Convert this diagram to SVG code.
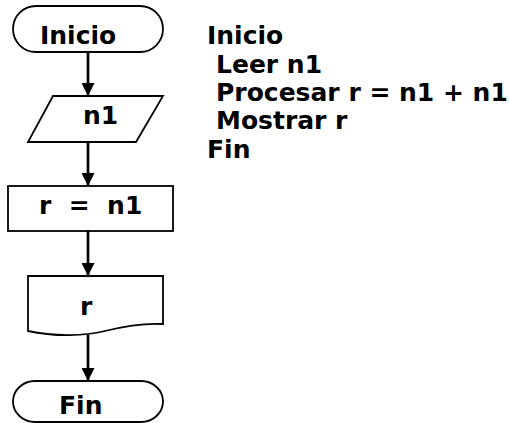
<svg xmlns="http://www.w3.org/2000/svg" width="510" height="423" viewBox="0 0 510 423">
  <style>
    .shape { fill: #ffffff; stroke: #000000; stroke-width: 1.8; }
    .label { font-family: "DejaVu Sans", Verdana, sans-serif; font-weight: bold; font-size: 25px; fill: #000000; }
    .flow { stroke: #000000; stroke-width: 2.7; fill: none; marker-end: url(#head); }
  </style>
  <defs>
    <marker id="head" viewBox="0 0 13 13" refX="13" refY="6.5" markerWidth="13" markerHeight="13" markerUnits="userSpaceOnUse" orient="auto">
      <path d="M0,0 L13,6.5 L0,13 Z" fill="#000000"/>
    </marker>
  </defs>
  <rect width="510" height="423" fill="#ffffff"/>

  <g id="connectors">
    <line class="flow" x1="88" y1="52" x2="88" y2="96"/>
    <line class="flow" x1="88" y1="142" x2="88" y2="186"/>
    <line class="flow" x1="88" y1="231" x2="88" y2="276"/>
    <line class="flow" x1="88" y1="335" x2="88" y2="381"/>
  </g>

  <g id="inicio">
    <rect class="shape" x="13" y="6" width="150" height="46" rx="23" ry="23"/>
    <text class="label" x="40" y="44">Inicio</text>
  </g>

  <g id="leer-n1">
    <polygon class="shape" points="53,96 163,96 136,142 28,142"/>
    <text class="label" x="83" y="124">n1</text>
  </g>

  <g id="proceso">
    <rect class="shape" x="8" y="186" width="165" height="45"/>
    <text class="label" x="39" y="214" xml:space="preserve">r  =  n1</text>
  </g>

  <g id="mostrar-r">
    <path class="shape" d="M28,276 L163,276 L163,324 C145,323 125,326 105,331 C85,336 55,337 28,331 Z"/>
    <text class="label" x="80" y="315">r</text>
  </g>

  <g id="fin">
    <rect class="shape" x="13" y="381" width="150" height="41" rx="22" ry="20.5"/>
    <text class="label" x="59" y="414">Fin</text>
  </g>

  <g id="pseudocodigo">
    <text class="label" x="207" y="44">Inicio</text>
    <text class="label" x="216" y="73">Leer n1</text>
    <text class="label" x="216" y="101">Procesar r = n1 + n1</text>
    <text class="label" x="216" y="129">Mostrar r</text>
    <text class="label" x="207" y="158">Fin</text>
  </g>
</svg>
